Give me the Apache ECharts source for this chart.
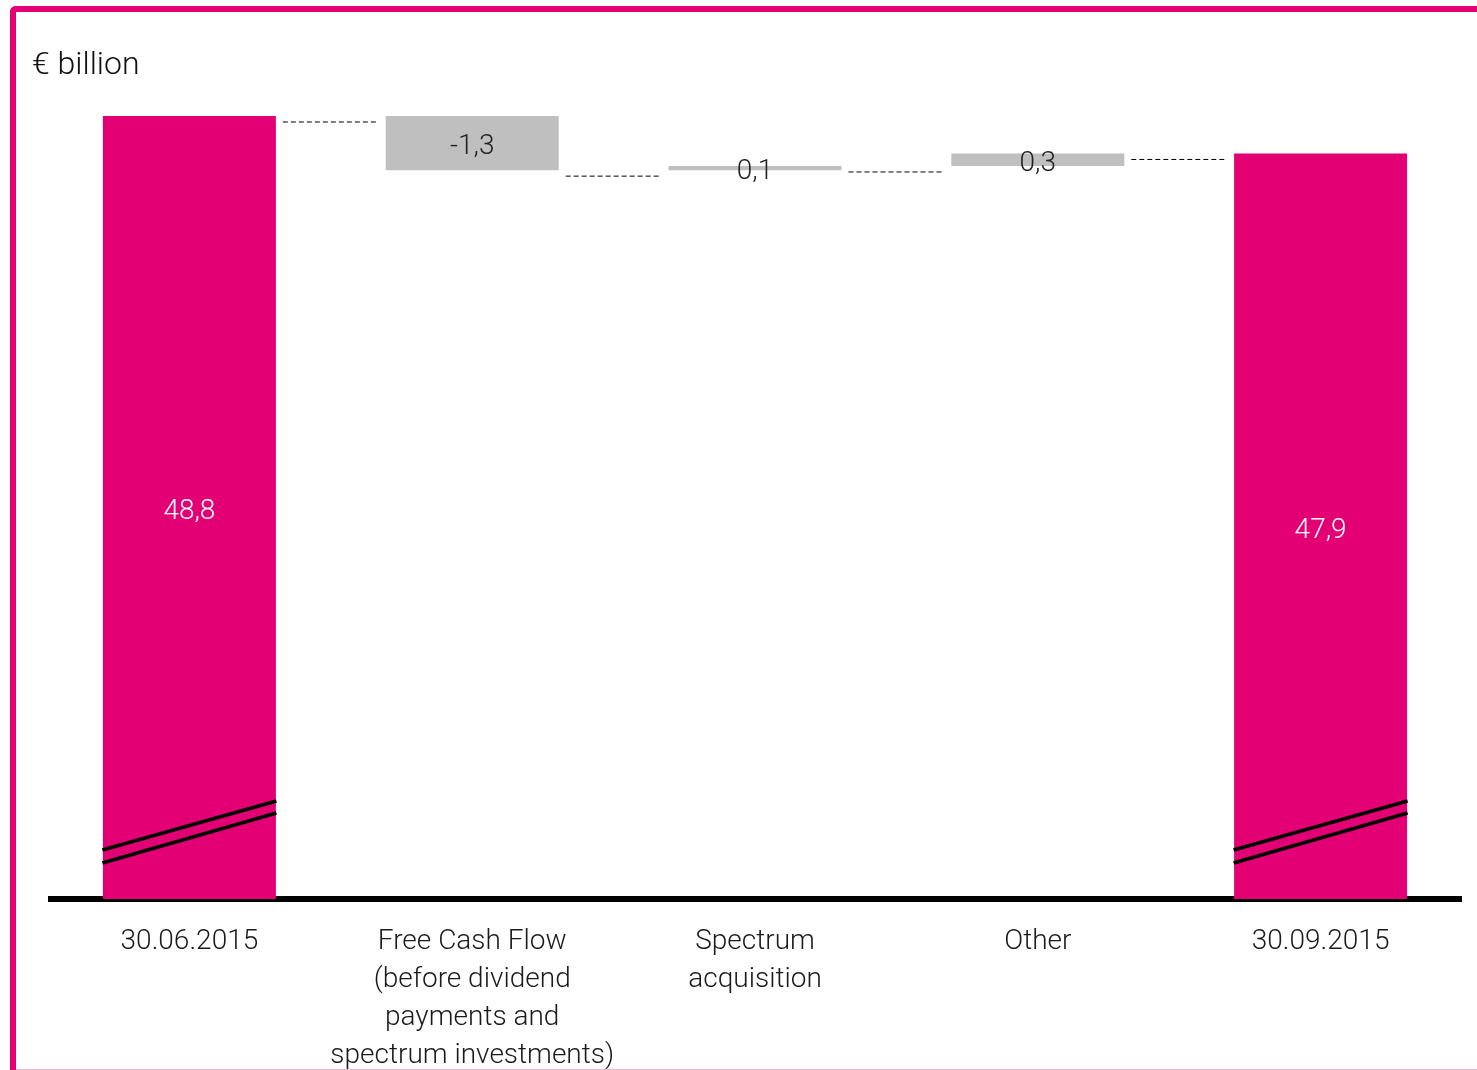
<!DOCTYPE html>
<html>
<head>
<meta charset="utf-8">
<script src="https://cdn.jsdelivr.net/npm/echarts@6/dist/echarts.min.js"></script>
<style>
html,body{margin:0;padding:0;background:#fff;overflow:hidden;}
#frame{position:absolute;left:10px;top:6px;width:1500px;height:1100px;border-top:6px solid #E20074;border-left:6px solid #E20074;border-top-left-radius:6px;box-sizing:border-box;}
#bottomline{position:absolute;left:16px;top:1069px;width:1461px;height:1px;background:#f0b6d3;}
#chart{position:absolute;left:0;top:0;width:1477px;height:1070px;}
</style>
</head>
<body>
<div id="frame"></div>
<div id="bottomline"></div>
<div id="chart"></div>
<script>
// ---- data ----
const categories = ['30.06.2015', 'Free Cash Flow\n(before dividend\npayments and\nspectrum investments)', 'Spectrum\nacquisition', 'Other', '30.09.2015'];
const startValue = 48.8;
const changes = [-1.3, 0.1, 0.3];
const endValue = 47.9;
const axisMin = 30;
const axisMax = 50;
const unitLabel = '€ billion';

// ---- derived series ----
const totals = [startValue, '-', '-', '-', endValue];
const bases = ['-'];
const deltas = ['-'];
const levels = [startValue];
let run = startValue;
changes.forEach(c => {
  const next = Math.round((run + c) * 10) / 10;
  bases.push(Math.min(run, next));
  deltas.push(Math.abs(c));
  run = next;
  levels.push(run);
});
bases.push('-'); deltas.push('-');
const signed = ['-'].concat(changes).concat(['-']);
const fmt = v => String(v).replace('.', ',');

const BAR_W = 173;
const FONT = 'Roboto, "Liberation Sans", sans-serif';

const chart = echarts.init(document.getElementById('chart'));
chart.setOption({
  animation: false,
  backgroundColor: 'transparent',
  graphic: [{
    type: 'text', left: 32, top: 50,
    style: { text: unitLabel, font: '300 32px ' + FONT, fill: '#111' }
  }],
  grid: { left: 48, right: 15, top: 66, bottom: 171, outerBoundsMode: 'none', containLabel: false },
  xAxis: {
    type: 'category', data: categories,
    axisLine: { lineStyle: { color: '#000', width: 6, cap: 'butt' } },
    axisTick: { show: false },
    axisLabel: { interval: 0, margin: 24, fontFamily: FONT, fontWeight: 300, fontSize: 28, lineHeight: 38, color: '#1a1a1a' }
  },
  yAxis: { type: 'value', min: axisMin, max: axisMax, show: false, splitLine: { show: false } },
  series: [
    {
      type: 'bar', data: totals, barWidth: BAR_W, barGap: '-100%',
      itemStyle: { color: '#E20074' },
      label: { show: true, position: 'inside', offset: [0, 5], formatter: p => fmt(p.value), color: '#fff', fontFamily: FONT, fontWeight: 300, fontSize: 28 },
      z: 2
    },
    {
      type: 'bar', data: bases, stack: 'w', barWidth: BAR_W,
      itemStyle: { color: 'transparent' }, silent: true
    },
    {
      type: 'bar', data: deltas, stack: 'w', barWidth: BAR_W,
      itemStyle: { color: '#BFBFBF' },
      label: { show: true, position: 'inside', offset: [0, 4], formatter: p => fmt(signed[p.dataIndex]), color: '#222', fontFamily: FONT, fontWeight: 300, fontSize: 28 }
    },
    {
      type: 'custom', z: 5,
      data: levels.map((v, i) => [i, v]),
      renderItem: function (params, api) {
        const p = api.coord([api.value(0), api.value(1)]);
        const cw = api.size([1, 0])[0];
        const y = p[1] + 6;
        return {
          type: 'line',
          shape: { x1: p[0] + BAR_W / 2 + 7, y1: y, x2: p[0] + cw - BAR_W / 2 - 8, y2: y },
          style: { stroke: '#000', lineWidth: 1, lineDash: [5, 3] }
        };
      }
    },
    {
      type: 'custom', z: 6,
      data: [[0, axisMin], [4, axisMin]],
      renderItem: function (params, api) {
        const p = api.coord([api.value(0), api.value(1)]);
        const x1 = p[0] - 87, x2 = p[0] + 87;
        const y = p[1];
        return {
          type: 'group',
          children: [
            { type: 'line', shape: { x1: x1, y1: y - 49, x2: x2, y2: y - 98 }, style: { stroke: '#000', lineWidth: 3.5 } },
            { type: 'line', shape: { x1: x1, y1: y - 36, x2: x2, y2: y - 86 }, style: { stroke: '#000', lineWidth: 3.5 } }
          ]
        };
      }
    }
  ]
});
</script>
</body>
</html>
